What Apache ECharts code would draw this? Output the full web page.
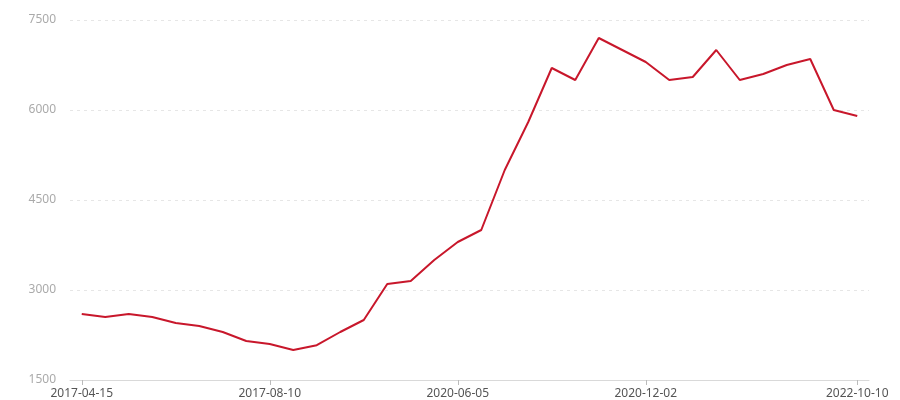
<!DOCTYPE html>
<html>
<head>
<meta charset="utf-8">
<script src="https://cdn.jsdelivr.net/npm/echarts@6/dist/echarts.min.js"></script>
<style>
  html, body { margin: 0; padding: 0; background: #fff; }
  #main { width: 900px; height: 400px; }
</style>
</head>
<body>
<div id="main"></div>
<script>
// category dates (only a few are labelled on the chart)
var dates = [
  '2017-04-15', '2017-04-30', '2017-05-15', '2017-05-30', '2017-06-14', '2017-06-29',
  '2017-07-14', '2017-07-26', '2017-08-10', '2017-08-25', '2017-09-09', '2017-11-20',
  '2018-03-15', '2018-08-02', '2019-01-10', '2019-09-18', '2020-06-05', '2020-06-27',
  '2020-07-19', '2020-08-10', '2020-09-01', '2020-09-23', '2020-10-15', '2020-11-08',
  '2020-12-02', '2021-02-10', '2021-04-22', '2021-07-01', '2021-09-09', '2021-11-18',
  '2022-02-05', '2022-04-26', '2022-07-18', '2022-10-10'
];
var values = [
  2600, 2550, 2600, 2550, 2450, 2400, 2300, 2150, 2100, 2000,
  2080, 2300, 2500, 3100, 3150, 3500, 3800, 4000, 5000, 5800,
  6700, 6500, 7200, 7000, 6800, 6500, 6550, 7000, 6500, 6600,
  6750, 6850, 6000, 5900
];
var labelled = ['2017-04-15', '2017-08-10', '2020-06-05', '2020-12-02', '2022-10-10'];
var yMin = 1500, yMax = 7500, yStep = 1500;

var chart = echarts.init(document.getElementById('main'));
function showIdx(i) {
  return labelled.indexOf(dates[i]) !== -1;
}
chart.setOption({
  animation: false,
  grid: { left: 70, right: 31, top: 20, bottom: 20, containLabel: false },
  xAxis: {
    type: 'category',
    data: dates,
    boundaryGap: true,
    axisLine: { lineStyle: { color: '#d9d9d9', width: 1 } },
    axisTick: { show: true, alignWithLabel: true, length: 5, interval: showIdx, lineStyle: { color: '#bbbbbb', width: 1 } },
    axisLabel: {
      interval: showIdx,
      hideOverlap: false,
      color: '#555555',
      fontSize: 12,
      fontFamily: 'Noto Sans, sans-serif',
      margin: 8
    }
  },
  yAxis: {
    type: 'value',
    min: yMin,
    max: yMax,
    interval: yStep,
    axisLine: { show: false },
    axisTick: { show: false },
    axisLabel: {
      color: '#aaaaaa',
      fontSize: 12,
      fontFamily: 'Noto Sans, sans-serif',
      margin: 14,
      formatter: function (v) { return String(v); }
    },
    splitLine: { lineStyle: { color: '#e6e6e6', type: [3, 4] } }
  },
  series: [{
    type: 'line',
    data: values,
    showSymbol: false,
    symbol: 'none',
    lineStyle: { color: '#c8172b', width: 2 },
    itemStyle: { color: '#c8172b' }
  }]
});
</script>
</body>
</html>
